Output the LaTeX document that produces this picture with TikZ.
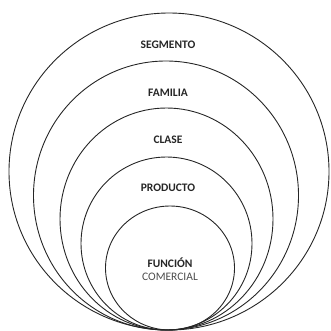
\documentclass[tikz,border=0pt]{standalone}
\usepackage{fontspec}
\setmainfont{Carlito}
\begin{document}
\begin{tikzpicture}[x=1pt,y=-1pt,
  ring/.style={draw=black!85,line width=0.9pt},
  lbl/.style={font=\bfseries\fontsize{11.5}{13}\selectfont,text=black!85,inner sep=0pt},
  sub/.style={font=\fontsize{11.5}{13}\selectfont,text=black!70,inner sep=0pt}]
\useasboundingbox (0,0) rectangle (331,330);
\draw[ring] (169,171.5) ellipse [x radius=160,y radius=158.5];
\draw[ring] (166,195.5) ellipse [x radius=132.5,y radius=134.5];
\draw[ring] (166.5,219) ellipse [x radius=106.5,y radius=111];
\draw[ring] (166.5,243.5) ellipse [x radius=85.5,y radius=86.5];
\draw[ring] (170,268) ellipse [x radius=64.5,y radius=62];
\node[lbl] (seg) at (168,45) {SEGMENTO};
\node[lbl] (fam) at (168,93) {FAMILIA};
\node[lbl] (cla) at (168,139.5) {CLASE};
\node[lbl] (pro) at (168,188) {PRODUCTO};
\node[lbl] (fun) at (170,263) {FUNCIÓN};
\node[sub] (com) at (170,277) {COMERCIAL};
\end{tikzpicture}
\end{document}
